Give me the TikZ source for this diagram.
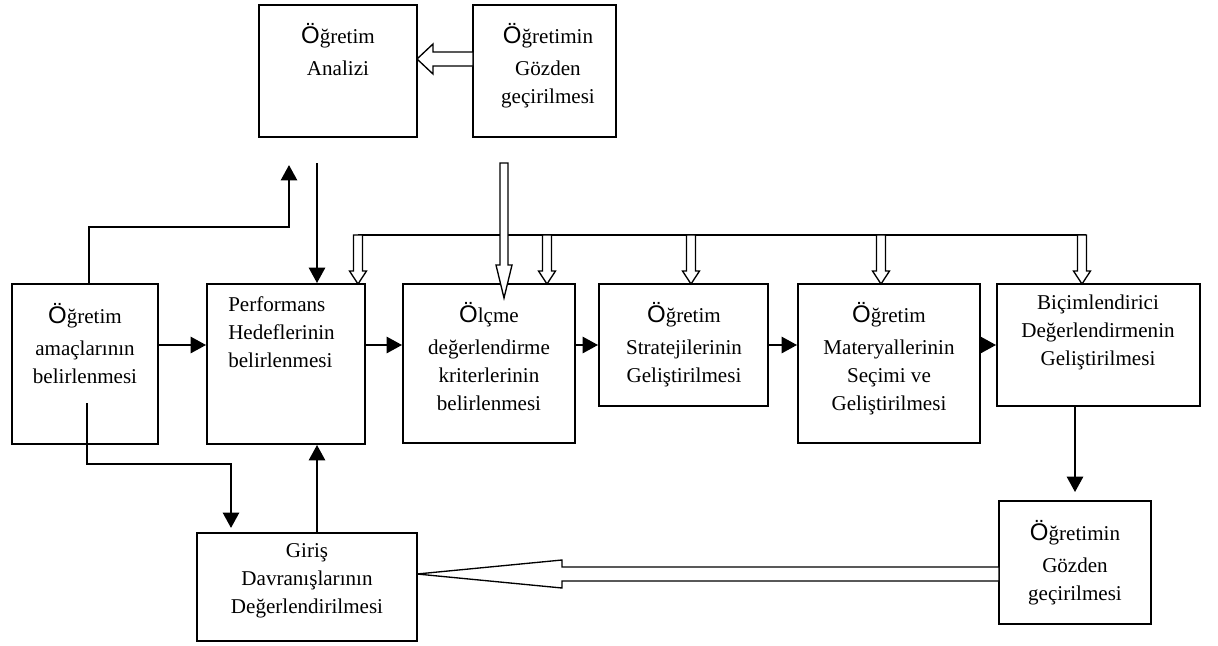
\documentclass[tikz,border=0pt]{standalone}
\usepackage{fontspec}
\setmainfont{Liberation Serif}
\newfontfamily\arialf{Liberation Sans}
\usetikzlibrary{arrows.meta}
\newcommand\Oo{{\arialf\fontsize{18pt}{21pt}\selectfont Ö}}
\newcommand\hdown[6]{\draw[hol] (#1-#4,#2) -- (#1-#4,#3-#6) -- (#1-#5,#3-#6) -- (#1,#3) -- (#1+#5,#3-#6) -- (#1+#4,#3-#6) -- (#1+#4,#2) -- cycle;}
\newcommand\hleft[6]{\draw[hol] (#2,#1-#4) -- (#3+#6,#1-#4) -- (#3+#6,#1-#5) -- (#3,#1) -- (#3+#6,#1+#5) -- (#3+#6,#1+#4) -- (#2,#1+#4) -- cycle;}
\tikzset{
  boxs/.style={draw, line width=1.4pt, inner sep=0pt},
  txt/.style={inner sep=0pt, align=center, anchor=north, font=\fontsize{15.8pt}{21pt}\selectfont, execute at begin node={\rule{0pt}{15pt}}},
  arr/.style={line width=1.9pt, -{Triangle[length=11.5pt,width=12pt]}},
  hol/.style={draw, line width=1pt, fill=white, line join=miter},
  thinln/.style={line width=1.1pt}
}
\begin{document}
\begin{tikzpicture}[x=0.75pt,y=-0.75pt]
\useasboundingbox (0,0) rectangle (1218,646);
% boxes
\node[boxs, minimum width=118.5pt, minimum height=99pt] (anal) at (338,71) {};
\node[boxs, minimum width=107.25pt, minimum height=99pt] (topr) at (544.5,71) {};
\node[boxs, minimum width=109.5pt, minimum height=120pt] (amac) at (85,364) {};
\node[boxs, minimum width=118.5pt, minimum height=120pt] (perf) at (286,364) {};
\node[boxs, minimum width=129pt, minimum height=119.25pt] (olcme) at (489,363.5) {};
\node[boxs, minimum width=126.75pt, minimum height=91.5pt] (strat) at (683.5,345) {};
\node[boxs, minimum width=136.5pt, minimum height=119.25pt] (mater) at (889,363.5) {};
\node[boxs, minimum width=152.25pt, minimum height=91.5pt] (bicim) at (1098.5,345) {};
\node[boxs, minimum width=114pt, minimum height=92.25pt] (botr) at (1075,562.5) {};
\node[boxs, minimum width=165pt, minimum height=81pt] (giris) at (307,587) {};
% texts
\node[txt] (anal-t) at (338,23) {\Oo ğretim\\[3pt]Analizi};
\node[txt] (topr-t) at (548,23) {\Oo ğretimin\\[3pt]Gözden\\geçirilmesi};
\node[txt] (amac-t) at (85,303) {\Oo ğretim\\[3pt]amaçlarının\\belirlenmesi};
\node[txt, anchor=north west, align=left] (perf-t) at (228,296) {Performans\\Hedeflerinin\\belirlenmesi};
\node[txt] (olcme-t) at (489,302) {\Oo lçme\\[3pt]değerlendirme\\kriterlerinin\\belirlenmesi};
\node[txt] (strat-t) at (684,302) {\Oo ğretim\\[3pt]Stratejilerinin\\Geliştirilmesi};
\node[txt] (mater-t) at (889,302) {\Oo ğretim\\[3pt]Materyallerinin\\Seçimi ve\\Geliştirilmesi};
\node[txt] (bicim-t) at (1098,295) {Biçimlendirici\\Değerlendirmenin\\Geliştirilmesi};
\node[txt] (botr-t) at (1075,520) {\Oo ğretimin\\[3pt]Gözden\\geçirilmesi};
\node[txt] (giris-t) at (307,543) {Giriş\\Davranışlarının\\Değerlendirilmesi};
% helper coordinates
\coordinate (r1) at (0,345);
\coordinate (aup) at (289,165);
\coordinate (akink) at (89,227);
\coordinate (adown) at (317,163);
\coordinate (bstart) at (87,403);
\coordinate (bkink) at (231,464);
\coordinate (bend) at (231,528);
% black connectors
\draw[arr] (amac.east |- r1) -- (perf.west |- r1);
\draw[arr] (perf.east |- r1) -- (olcme.west |- r1);
\draw[arr] (olcme.east |- r1) -- (strat.west |- r1);
\draw[arr] (strat.east |- r1) -- (mater.west |- r1);
\draw[arr] (mater.east |- r1) -- (bicim.west |- r1);
\draw[arr] (amac.north -| akink) -- (akink) -| (aup);
\draw[arr] (adown) -- (perf.north -| adown);
\draw[arr] (bstart) |- (bkink) -- (bend);
\draw[arr] (giris.north -| adown) -- (perf.south -| adown);
\draw[arr, shorten >=6pt] (bicim.south -| botr.north) -- (botr.north);
% distribution line and hollow arrows
\draw[thinln] (358,235) -- (1086,235);
\hdown{358}{235}{284}{4.5}{8.5}{13}
\hdown{547}{235}{284}{4.5}{8.5}{13}
\hdown{691}{235}{284}{4.5}{8.5}{13}
\hdown{881}{235}{284}{4.5}{8.5}{13}
\hdown{1082}{235}{284}{4.5}{8.5}{13}
\hdown{504}{163}{298}{4}{8}{33}
\hleft{59}{473}{417}{7}{15}{16}
\hleft{574}{999}{417}{7}{14}{145}
\end{tikzpicture}
\end{document}
